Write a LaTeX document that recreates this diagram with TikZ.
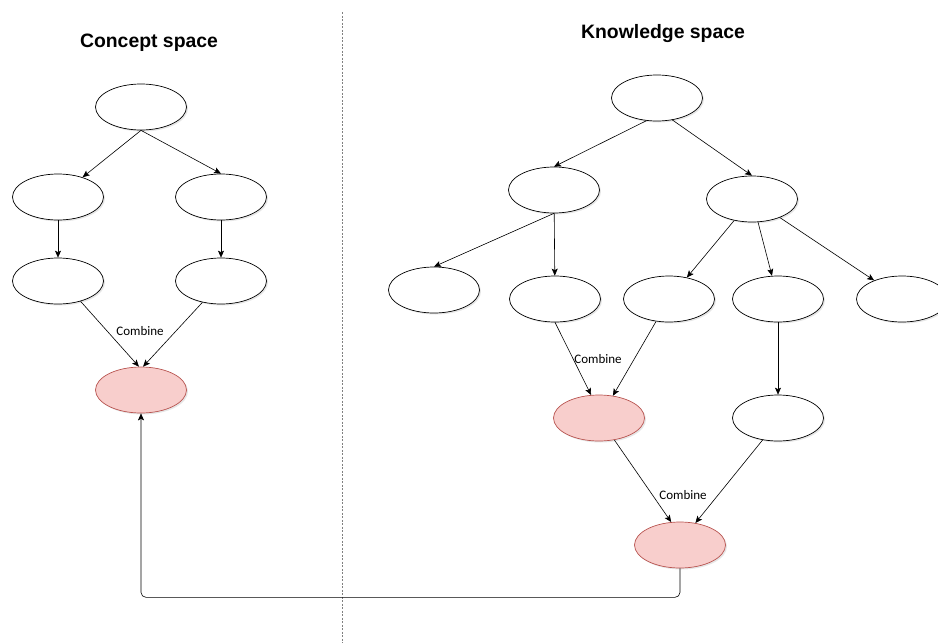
\documentclass[tikz,border=0pt]{standalone}
\usepackage{fontspec}
\newfontfamily\headfam{Liberation Sans}
\newfontfamily\notefam{Carlito}
\newcommand*{\headfont}{\headfam\bfseries\fontsize{19.4}{22}\selectfont}
\newcommand*{\notefont}{\notefam\fontsize{13}{15}\selectfont}
\definecolor{hitfill}{HTML}{F8CECC}
\definecolor{hitline}{HTML}{B85450}
\definecolor{divider}{HTML}{808080}
\usetikzlibrary{arrows.meta}
\usetikzlibrary{shapes.geometric}
\usetikzlibrary{shadows}
\tikzstyle{base}=[x=1pt, y=-1pt, line width=0.7pt]
\tikzstyle{blob}=[ellipse, draw=black, fill=white, minimum width=91pt, minimum height=46pt, inner sep=0pt, drop shadow={shadow xshift=1.5pt, shadow yshift=-1.5pt, opacity=0.2}]
\tikzstyle{hit}=[blob, draw=hitline, fill=hitfill]
\tikzstyle{edge}=[-{Stealth[length=7pt, width=6pt, inset=1.5pt]}, line width=0.6pt]
\tikzstyle{head}=[font=\headfont, anchor=base]
\tikzstyle{note}=[font=\notefont]

\begin{document}
\begin{tikzpicture}[base]
    \path [use as bounding box] (0,0) rectangle (938,643);
    \draw [divider, dash pattern=on 2pt off 1.5pt, line width=0.6pt] (342,12) -- (342,643);
    \node [head] (chead) at (149,47) {Concept space};
    \node [head] (khead) at (663,38) {Knowledge space};
    \node [blob] (ct) at (141,107) {};
    \node [blob] (cl1) at (58,197) {};
    \node [blob] (cr1) at (221,197) {};
    \node [blob] (cl2) at (58,281) {};
    \node [blob] (cr2) at (221,281) {};
    \node [hit] (cc) at (141,390) {};
    \draw [edge] (ct.south) -- (cl1);
    \draw [edge] (ct.south) -- (cr1.north);
    \draw [edge] (cl1) -- (cl2);
    \draw [edge] (cr1) -- (cr2);
    \draw [edge] (cl2.-42) -- (cc.95);
    \draw [edge] (cr2.-131) -- (cc.85);
    \node [note] (cnote) at (140,331) {Combine};
    \node [blob] (kt) at (657,98) {};
    \node [blob] (kl) at (554,190) {};
    \node [blob] (kr) at (752,199) {};
    \node [blob] (k1) at (434,290) {};
    \node [blob] (k2) at (555,299) {};
    \node [blob] (k3) at (669,299) {};
    \node [blob] (k4) at (778,299) {};
    \node [blob] (k5) at (902,299) {};
    \node [hit] (kc1) at (599,418) {};
    \node [blob] (kw) at (778,418) {};
    \node [hit] (kc2) at (680,545) {};
    \draw [edge] (kt.-115) -- (kl.north);
    \draw [edge] (kt.-55) -- (kr.north);
    \draw [edge] (kl.south) -- (k1.north);
    \draw [edge] (kl) -- (k2);
    \draw [edge] (kr) -- (k3);
    \draw [edge] (kr) -- (k4);
    \draw [edge] (kr) -- (k5);
    \draw [edge] (k2.south) -- (kc1.109);
    \draw [edge] (k3.-120) -- (kc1.58);
    \draw [edge] (k4) -- (kw);
    \draw [edge] (kc1.-55) -- (kc2.111);
    \draw [edge] (kw.-125) -- (kc2.55);
    \node [note] (knote1) at (598,359) {Combine};
    \node [note] (knote2) at (683,495) {Combine};
    \draw [edge, rounded corners=5pt] (kc2.south) -- ++(0,29) -| (cc.south);
\end{tikzpicture}
\end{document}
